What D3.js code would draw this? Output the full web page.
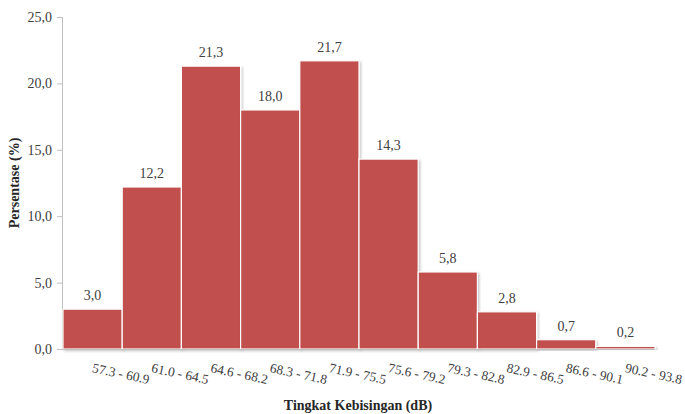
<!DOCTYPE html>
<html><head><meta charset="utf-8">
<script src="https://cdn.jsdelivr.net/npm/d3@7/dist/d3.min.js"></script>
<style>body{margin:0;background:#fff}svg{display:block}</style>
</head><body>
<svg id="c" width="685" height="414"></svg>
<script>
const categories = ["57.3 - 60.9","61.0 - 64.5","64.6 - 68.2","68.3 - 71.8","71.9 - 75.5","75.6 - 79.2","79.3 - 82.8","82.9 - 86.5","86.6 - 90.1","90.2 - 93.8"];
const values = [3.0,12.2,21.3,18.0,21.7,14.3,5.8,2.8,0.7,0.2];
const yTicks = [0,5,10,15,20,25];
const yTitle = "Persentase (%)";
const xTitle = "Tingkat Kebisingan (dB)";

const svg = d3.select("#c");
const font = "'Liberation Serif','Times New Roman',serif";
const x = d3.scaleBand().domain(categories).range([63,655]).padding(0);
const y = d3.scaleLinear().domain([0,25]).range([349,17]);
const fmt = v => v.toFixed(1).replace(".", ",");

const defs = svg.append("defs");
const f = defs.append("filter").attr("id","sh").attr("x","-10%").attr("y","-10%").attr("width","130%").attr("height","130%");
f.append("feDropShadow").attr("dx",1.5).attr("dy",1.5).attr("stdDeviation",1.2).attr("flood-color","#000").attr("flood-opacity",0.22);

// y axis
const ya = d3.axisLeft(y).tickValues(yTicks).tickSize(5).tickFormat(fmt);
const yg = svg.append("g").attr("transform","translate(62,0)").call(ya);
yg.select(".domain").attr("stroke","#bfbfbf");
yg.selectAll(".tick line").attr("stroke","#bfbfbf");
yg.selectAll(".tick text").attr("font-family",font).attr("font-size",14).attr("fill","#404040").attr("x",-10);

// bars
svg.append("g").selectAll("rect").data(values).join("rect")
  .attr("x",(d,i)=>x(categories[i]))
  .attr("y",d=>y(d))
  .attr("width",x.bandwidth())
  .attr("height",d=>y(0)-y(d))
  .attr("fill","#C0504D")
  .attr("stroke","#fff").attr("stroke-width",1.2)
  .attr("filter","url(#sh)");

// x axis line
svg.append("line").attr("x1",57).attr("x2",655).attr("y1",y(0)+0.5).attr("y2",y(0)+0.5).attr("stroke","#bfbfbf");

// value labels
svg.append("g").selectAll("text").data(values).join("text")
  .attr("x",(d,i)=>x(categories[i])+x.bandwidth()/2)
  .attr("y",d=>y(d)-9)
  .attr("text-anchor","middle")
  .attr("font-family",font).attr("font-size",14).attr("fill","#404040")
  .text(fmt);

// category labels
svg.append("g").selectAll("text").data(categories).join("text")
  .attr("transform",(d)=>`translate(${x(d)+x.bandwidth()/2-1},${372}) rotate(12)`)
  .attr("text-anchor","start")
  .attr("font-family",font).attr("font-size",13.4).attr("fill","#404040")
  .text(d=>d);

// titles
svg.append("text").attr("transform","translate(19,183) rotate(-90)")
  .attr("text-anchor","middle").attr("font-family",font).attr("font-size",14).attr("font-weight","bold").attr("fill","#262626")
  .text(yTitle);
svg.append("text").attr("x",358).attr("y",410)
  .attr("text-anchor","middle").attr("font-family",font).attr("font-size",14).attr("font-weight","bold").attr("fill","#262626")
  .text(xTitle);
</script>
</body></html>
